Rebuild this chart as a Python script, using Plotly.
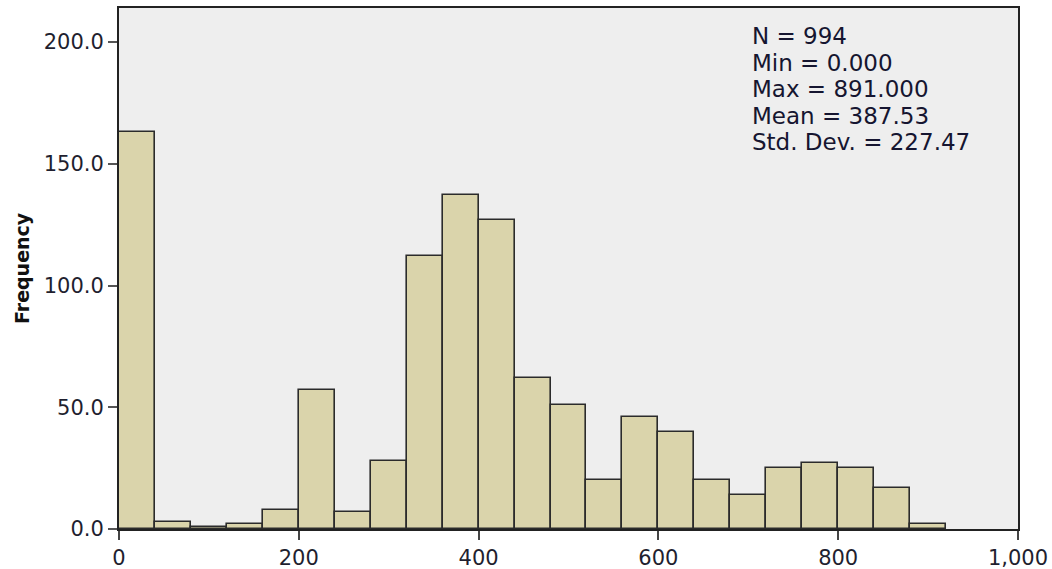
import plotly.graph_objects as go

# Histogram bins (width 40) and their frequencies
bin_starts = [0, 40, 80, 120, 160, 200, 240, 280, 320, 360, 400, 440, 480,
              520, 560, 600, 640, 680, 720, 760, 800, 840, 880]
frequencies = [163, 3, 1, 2, 8, 57, 7, 28, 112, 137, 127, 62, 51,
               20, 46, 40, 20, 14, 25, 27, 25, 17, 2]
bin_width = 40

stats_lines = ["N = 994", "Min = 0.000", "Max = 891.000",
               "Mean = 387.53", "Std. Dev. = 227.47"]

x_ticks = [0, 200, 400, 600, 800, 1000]
y_ticks = [0, 50, 100, 150, 200]

FONT = "DejaVu Sans"

fig = go.Figure()
fig.add_trace(go.Bar(
    x=[s + bin_width / 2 for s in bin_starts],
    y=frequencies,
    width=bin_width,
    marker=dict(color="#DAD4AB", line=dict(color="#2b2b2b", width=1.6)),
    hoverinfo="y",
))

W, H = 1052, 569
ml, mr, mt, mb = 119, 34, 8, 40

fig.update_layout(
    width=W, height=H,
    margin=dict(l=ml, r=mr, t=mt, b=mb),
    paper_bgcolor="white",
    plot_bgcolor="#EEEEEE",
    showlegend=False,
    bargap=0,
    font=dict(family=FONT, color="#1f1f2f"),
)

fig.update_xaxes(
    range=[0, 1000],
    tickvals=x_ticks,
    tickformat=",d",
    ticks="outside", ticklen=9, tickwidth=1.5, tickcolor="#444",
    tickfont=dict(size=21, family=FONT, color="#1f1f2f"),
    showgrid=False, zeroline=False, automargin=False,
    showline=True, linecolor="#222", linewidth=2, mirror=True,
)
fig.update_yaxes(
    range=[0, 214],
    tickvals=y_ticks,
    tickformat=".1f",
    ticks="outside", ticklen=9, tickwidth=1.5, tickcolor="#555",
    tickfont=dict(size=21, family=FONT, color="#1f1f2f"),
    showgrid=False, zeroline=False, automargin=False,
    showline=True, linecolor="#222", linewidth=2, mirror=True,
)

plot_h = H - mt - mb
plot_w = W - ml - mr

# Axis title
fig.add_annotation(
    text="<b>Frequency</b>", textangle=-90,
    xref="paper", yref="paper",
    x=(22 - ml) / plot_w, y=1 - (268 - mt) / plot_h,
    xanchor="center", yanchor="middle", showarrow=False,
    font=dict(size=19, family=FONT, color="#111"),
)

# Summary statistics block, one line per annotation
for i, line in enumerate(stats_lines):
    y_px = 36 + i * 26.5
    fig.add_annotation(
        text=line,
        xref="paper", yref="paper",
        x=(750 - ml) / plot_w, y=1 - (y_px - mt) / plot_h,
        xanchor="left", yanchor="middle", showarrow=False,
        font=dict(size=23, family=FONT, color="#151530"),
    )

fig.write_html("out.html")
